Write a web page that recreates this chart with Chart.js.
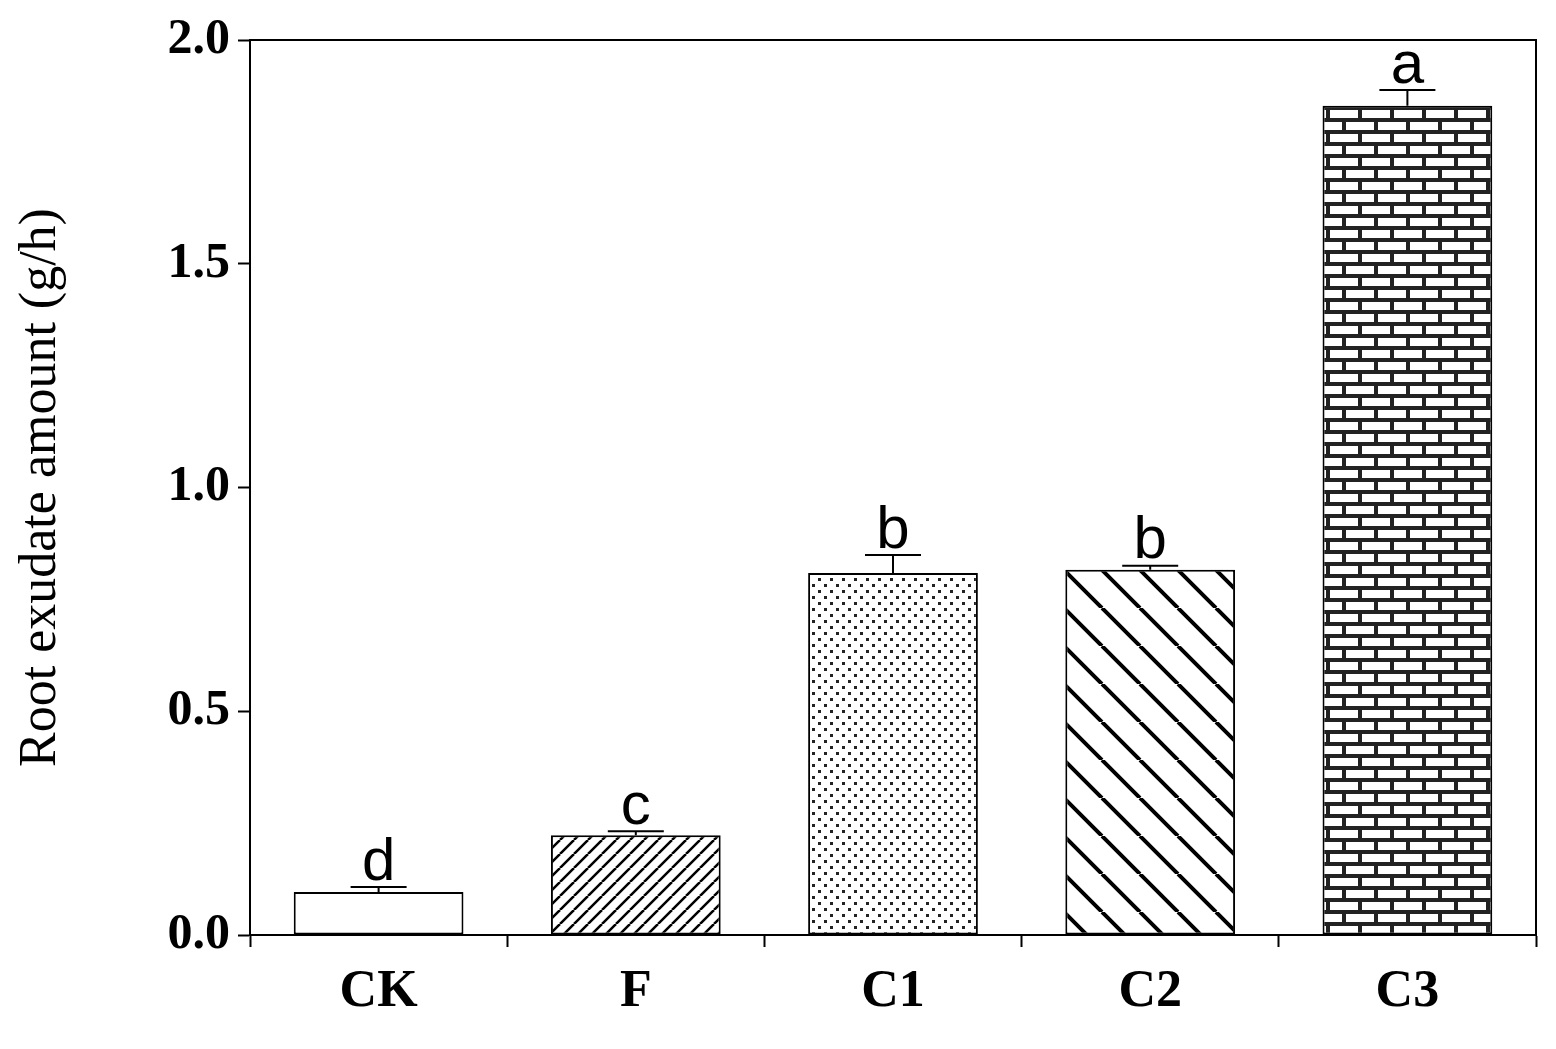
<!DOCTYPE html>
<html>
<head>
<meta charset="utf-8">
<script src="https://cdn.jsdelivr.net/npm/chart.js@4"></script>
<style>
  body { margin: 0; background: #fff; }
  #wrap { width: 1556px; height: 1049px; }
</style>
</head>
<body>
<div id="wrap"><canvas id="chart"></canvas></div>
<script>
const categories = ['CK', 'F', 'C1', 'C2', 'C3'];
const means = [0.096, 0.223, 0.809, 0.816, 1.853];
const errors = [0.011, 0.009, 0.040, 0.009, 0.035];
const letters = ['d', 'c', 'b', 'b', 'a'];
const yTicks = [0, 0.5, 1.0, 1.5, 2.0];

function tile(w, h, draw) {
  const c = document.createElement('canvas');
  c.width = w; c.height = h;
  const g = c.getContext('2d');
  g.fillStyle = '#fff';
  g.fillRect(0, 0, w, h);
  draw(g, w, h);
  return document.getElementById('chart').getContext('2d').createPattern(c, 'repeat');
}

function diag(size, width, back) {
  return tile(size, size, (g, w, h) => {
    g.strokeStyle = '#000';
    g.lineWidth = width;
    g.beginPath();
    for (let k = -1; k <= 1; k++) {
      if (back) { g.moveTo(k * w, 0); g.lineTo(k * w + w, h); }
      else { g.moveTo(k * w, h); g.lineTo(k * w + w, 0); }
    }
    g.stroke();
  });
}

const patterns = [
  '#fff',
  diag(14, 2.5, false),
  tile(12, 12, (g) => {
    g.fillStyle = '#222';
    g.fillRect(2, 2, 3, 3);
    g.fillRect(8, 8, 3, 3);
  }),
  diag(38, 4, true),
  tile(32, 24, (g) => {
    g.fillStyle = '#222';
    g.fillRect(0, 0, 32, 24);
    g.fillStyle = '#fff';
    g.fillRect(2, 2, 28, 8);
    g.fillRect(0, 14, 14, 8);
    g.fillRect(18, 14, 14, 8);
  })
];

const extras = {
  id: 'extras',
  afterDatasetsDraw(chart) {
    const { ctx, chartArea: a, scales: { x, y } } = chart;
    ctx.save();
    ctx.strokeStyle = '#000';
    ctx.lineWidth = 2;
    ctx.strokeRect(a.left, a.top, a.right - a.left, a.bottom - a.top);
    ctx.fillStyle = '#000';
    ctx.font = '60px "Liberation Sans", Arial, sans-serif';
    ctx.textAlign = 'center';
    ctx.textBaseline = 'bottom';
    categories.forEach((c, i) => {
      const cx = x.getPixelForValue(i);
      const top = y.getPixelForValue(means[i] + errors[i]);
      ctx.beginPath();
      ctx.moveTo(cx, y.getPixelForValue(means[i]));
      ctx.lineTo(cx, top);
      ctx.moveTo(cx - 28, top);
      ctx.lineTo(cx + 28, top);
      ctx.stroke();
      ctx.fillText(letters[i], cx, top + 6);
    });
    ctx.restore();
  }
};

new Chart(document.getElementById('chart'), {
  type: 'bar',
  data: {
    labels: categories,
    datasets: [{
      data: means,
      backgroundColor: patterns,
      borderColor: '#000',
      borderWidth: 2,
      borderSkipped: false,
      categoryPercentage: 1,
      barPercentage: 0.66
    }]
  },
  options: {
    responsive: true,
    maintainAspectRatio: false,
    animation: false,
    layout: { padding: { top: 40, right: 20 } },
    plugins: { legend: { display: false }, tooltip: { enabled: false } },
    scales: {
      x: {
        grid: { display: true, drawOnChartArea: false, drawTicks: true, tickLength: 12, color: '#000', tickColor: '#000', tickWidth: 2 },
        border: { color: '#000', width: 2 },
        ticks: { color: '#000', padding: 14, font: { family: '"Liberation Serif", serif', size: 52, weight: 'bold' } },
        afterFit(s) { s.height = 114; }
      },
      y: {
        min: 0, max: 2,
        afterBuildTicks(s) { s.ticks = yTicks.map(v => ({ value: v })); },
        grid: { display: true, drawOnChartArea: false, drawTicks: true, tickLength: 12, color: '#000', tickColor: '#000', tickWidth: 2 },
        border: { color: '#000', width: 2 },
        ticks: { color: '#000', padding: 8, callback: v => v.toFixed(1), font: { family: '"Liberation Serif", serif', size: 50, weight: 'bold' } },
        title: { display: true, text: 'Root exudate amount (g/h)', color: '#000', padding: 10, font: { family: '"Liberation Serif", serif', size: 52 } },
        afterFit(s) { s.width = 250; }
      }
    }
  },
  plugins: [extras]
});
</script>
</body>
</html>
